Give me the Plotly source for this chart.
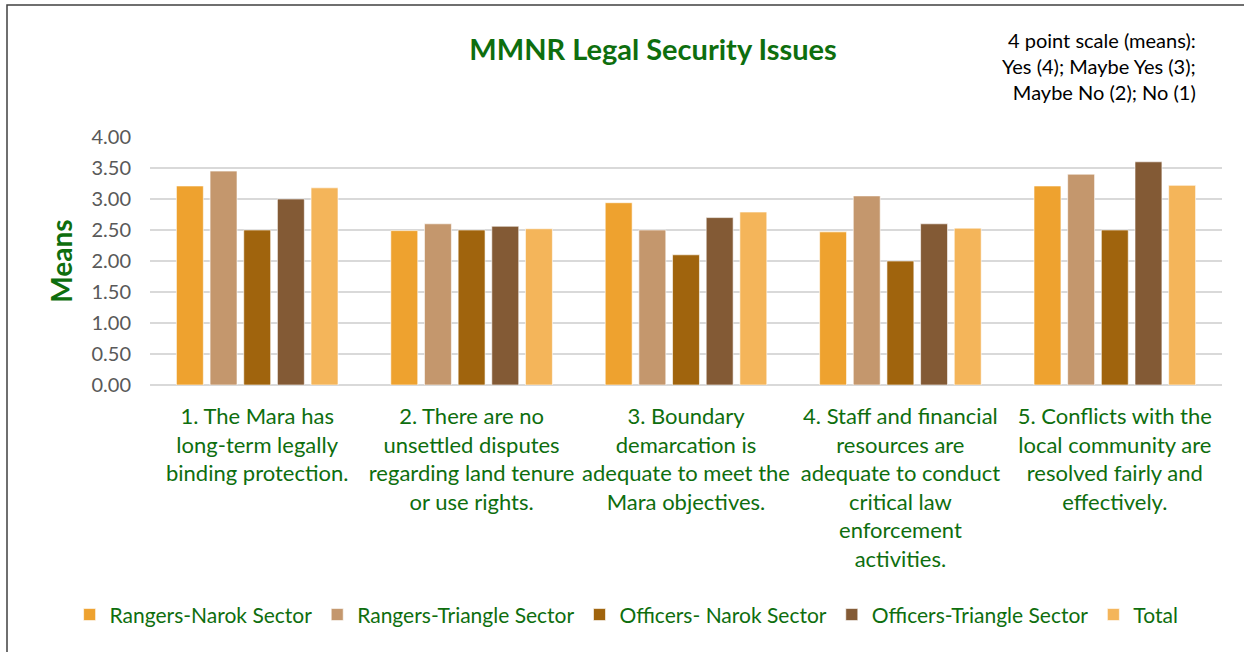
import plotly.graph_objects as go

categories = [
    "1. The Mara has<br>long-term legally<br>binding protection.",
    "2. There are no<br>unsettled disputes<br>regarding land tenure<br>or use rights.",
    "3. Boundary<br>demarcation is<br>adequate to meet the<br>Mara objectives.",
    "4. Staff and financial<br>resources are<br>adequate to conduct<br>critical law<br>enforcement<br>activities.",
    "5. Conflicts with the<br>local community are<br>resolved fairly and<br>effectively.",
]
series_names = ["Rangers-Narok Sector", "Rangers-Triangle Sector", "Officers- Narok Sector",
                "Officers-Triangle Sector", "Total"]
rangers_narok = [3.21, 2.49, 2.94, 2.47, 3.21]
rangers_triangle = [3.45, 2.60, 2.50, 3.05, 3.40]
officers_narok = [2.50, 2.50, 2.10, 2.00, 2.50]
officers_triangle = [3.00, 2.56, 2.70, 2.60, 3.60]
total = [3.18, 2.52, 2.79, 2.53, 3.22]
colors = ["#EEA22F", "#C4976D", "#A0640D", "#835A35", "#F4B55A"]
y_ticks = [0, 0.5, 1, 1.5, 2, 2.5, 3, 3.5, 4]

GREEN = "#0E6E0E"
FONT = "Lato"

fig = go.Figure()
for name, vals, col in zip(series_names,
                           [rangers_narok, rangers_triangle, officers_narok, officers_triangle, total],
                           colors):
    fig.add_trace(go.Bar(name=name, x=categories, y=vals,
                         marker=dict(color=col, line=dict(color="rgba(255,255,255,0.6)", width=1))))

fig.update_layout(
    width=1244, height=652,
    barmode="group", bargap=0.215, bargroupgap=0.2,
    paper_bgcolor="white", plot_bgcolor="white",
    margin=dict(l=150, r=22, t=137, b=267),
    font=dict(family=FONT),
    title=dict(text="<b>MMNR Legal Security Issues</b>", x=0.525, xanchor="center",
               y=0.923, yanchor="middle", font=dict(size=29, color=GREEN, family=FONT)),
    showlegend=True,
    legend=dict(orientation="h", x=-0.075, xanchor="left", y=-0.927, yanchor="middle",
                font=dict(size=21, color=GREEN, family=FONT), itemwidth=30,
                bgcolor="rgba(0,0,0,0)", traceorder="normal"),
    yaxis=dict(range=[0, 4], tickvals=y_ticks, tickformat=".2f",
               tickfont=dict(size=20, color="#595959", family=FONT),
               showgrid=True, gridcolor="#D9D9D9", gridwidth=1.5,
               zeroline=True, zerolinecolor="#D9D9D9", zerolinewidth=1.5,
               ticks="", ticklabelstandoff=18,
               title=dict(text="<b>Means</b>", font=dict(size=28, color=GREEN, family=FONT), standoff=10)),
    xaxis=dict(tickfont=dict(size=22, color=GREEN, family=FONT), ticks="",
               showgrid=False, tickangle=0, showline=False, ticklabelstandoff=16),
    shapes=[dict(type="rect", xref="paper", yref="paper",
                 x0=(7 - 150) / 1072, x1=(1262 - 150) / 1072,
                 y0=(385 - 670) / 248, y1=(385 - 5) / 248,
                 line=dict(color="#404040", width=1.5), fillcolor="rgba(0,0,0,0)", layer="below")],
    annotations=[dict(text="4 point scale (means):<br>Yes (4); Maybe Yes (3);<br>  Maybe No (2); No (1)",
                      xref="paper", yref="paper", x=(1198 - 150) / 1072, y=(385 - 66) / 248,
                      xanchor="right", yanchor="middle", align="right", showarrow=False,
                      font=dict(size=20, color="black", family=FONT))],
)

fig.write_html("out.html", config={"displayModeBar": False},
               post_script="document.body.style.margin='0px';document.body.style.overflow='hidden';")
